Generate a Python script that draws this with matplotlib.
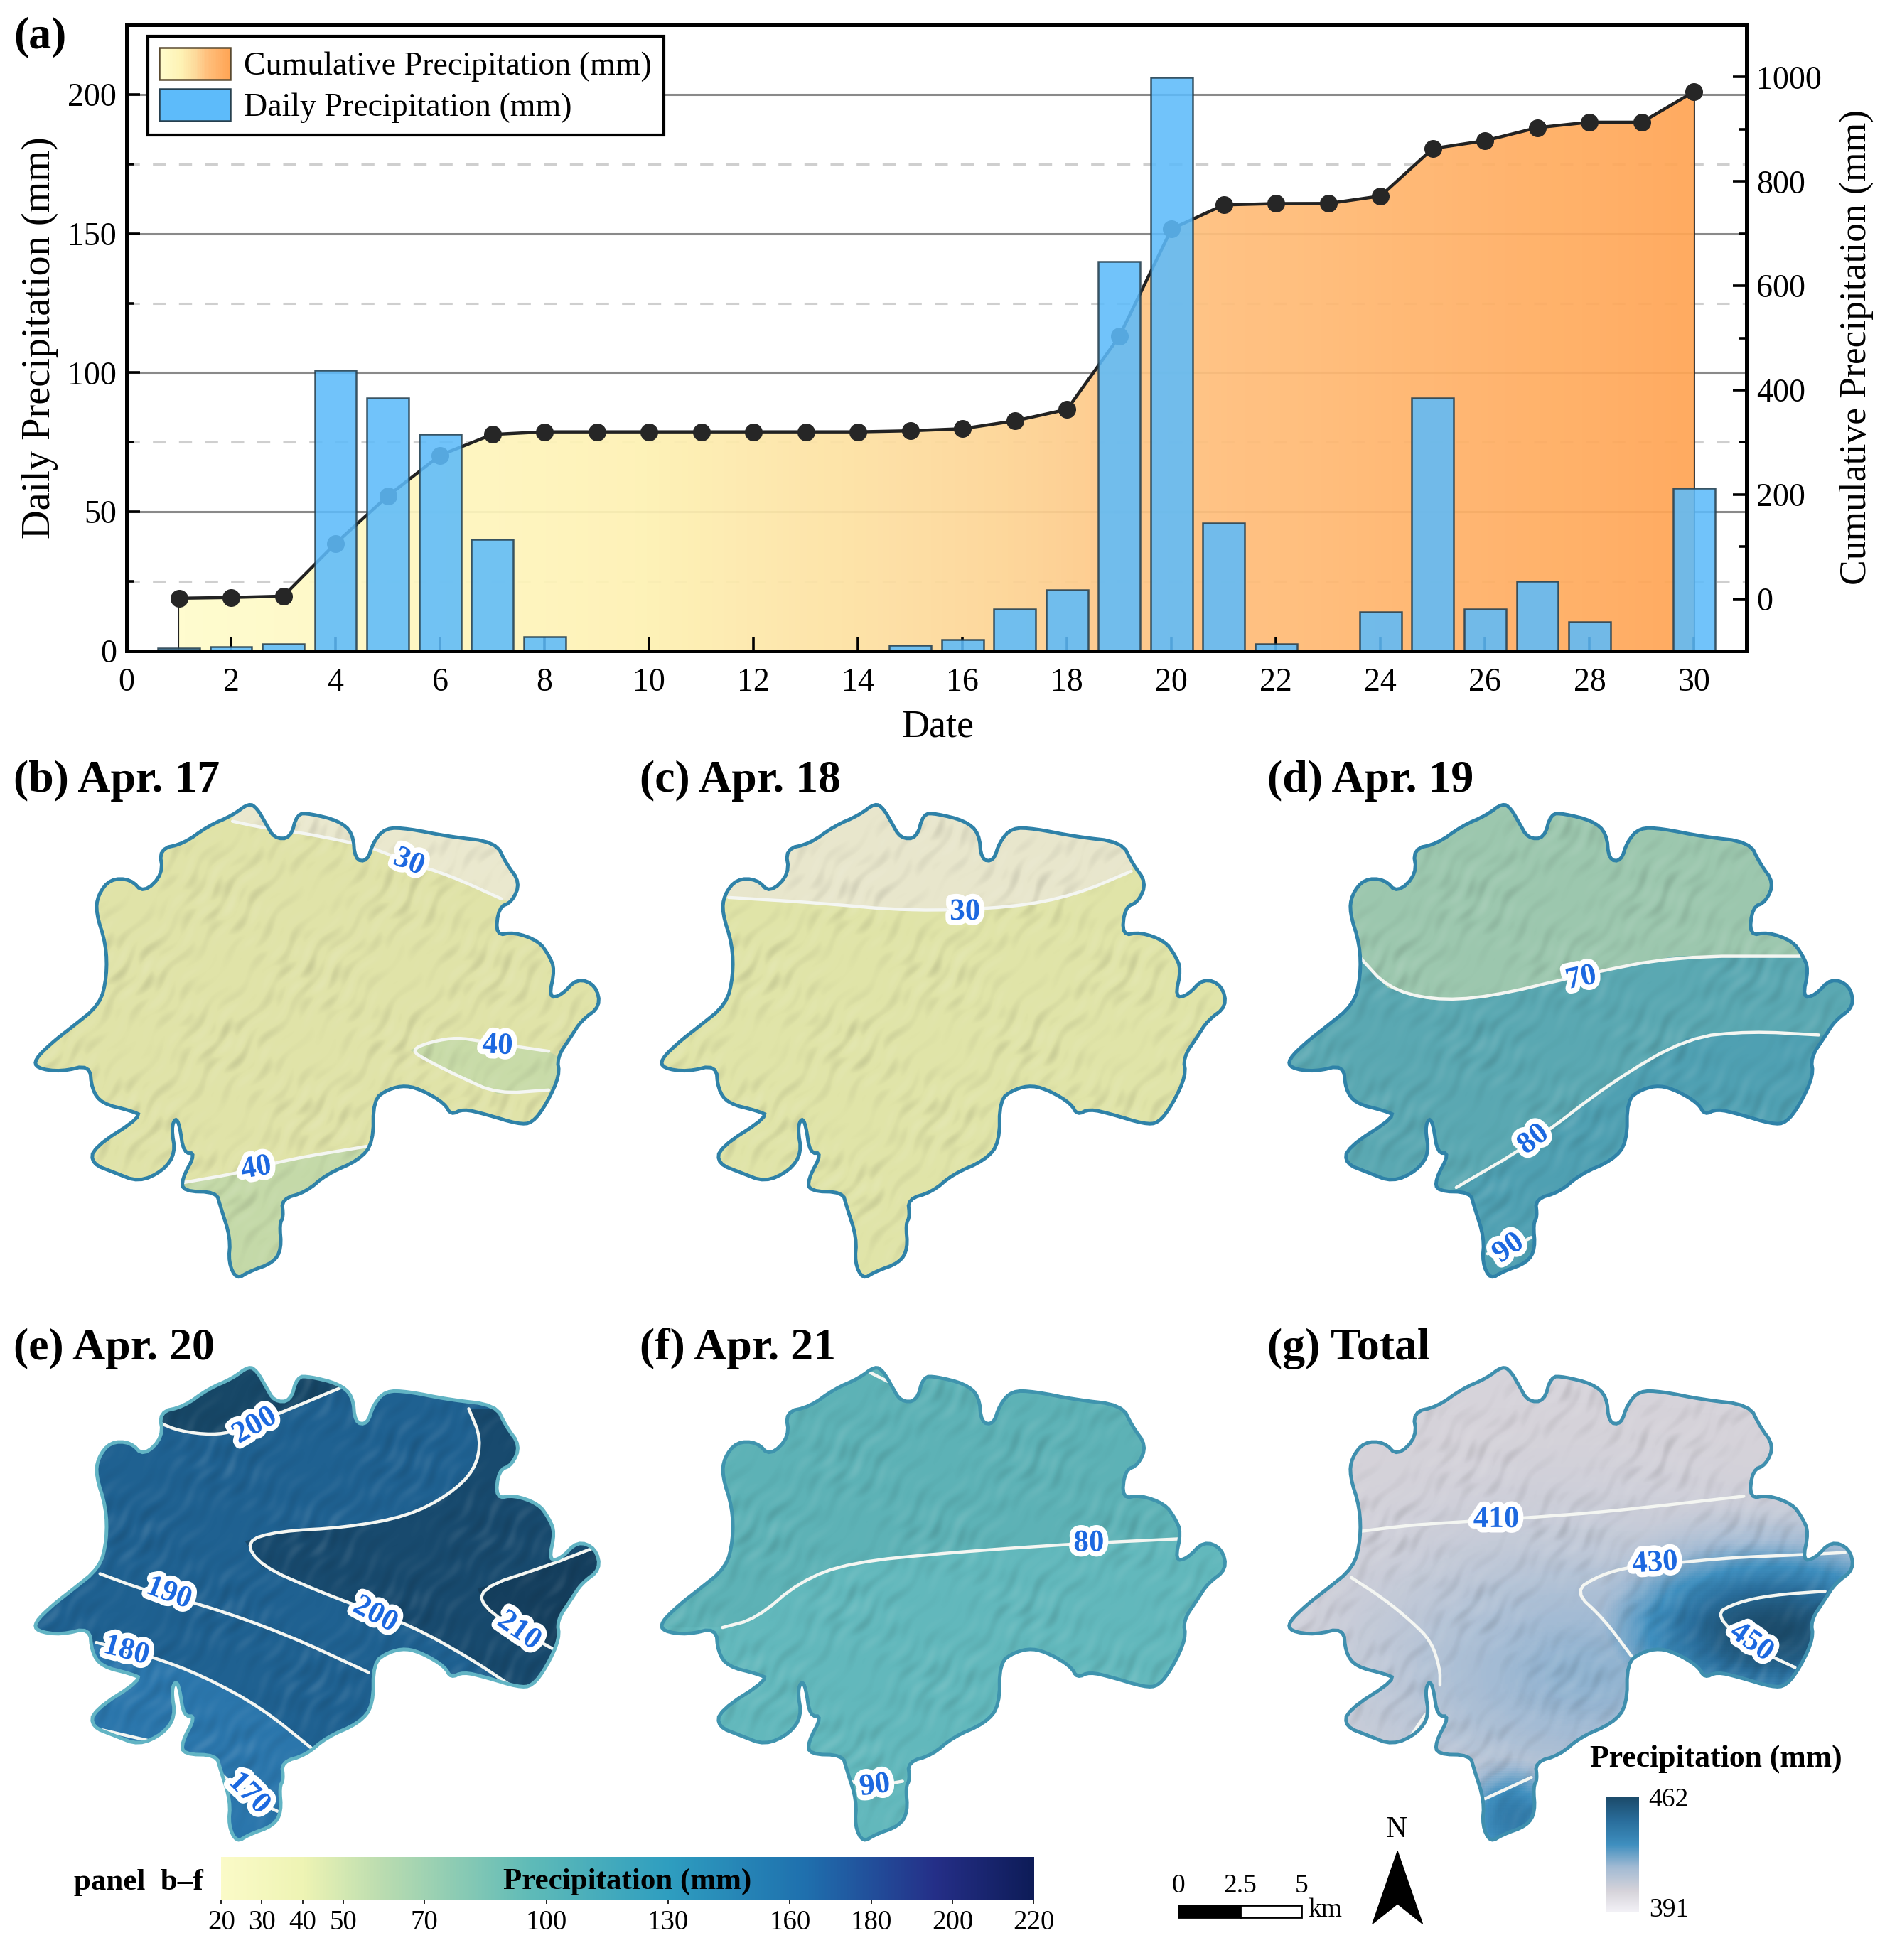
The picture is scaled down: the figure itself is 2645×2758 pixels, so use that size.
import numpy as np
import matplotlib
matplotlib.use("Agg")
import matplotlib.pyplot as plt
import matplotlib.patheffects as pe
from matplotlib.colors import LinearSegmentedColormap
from matplotlib.legend_handler import HandlerBase
from matplotlib.patches import Patch, Polygon, Rectangle

plt.rcParams['font.family'] = ['Liberation Serif', 'DejaVu Serif']

# -----------------------------
# Panel (a) data
# -----------------------------
days = list(range(1, 31))
daily = [1, 1.5, 2.5, 101, 91, 78, 40, 5, 0, 0.3, 0, 0, 0, 0, 2,
         4, 15, 22, 140, 206, 46, 2.5, 0.2, 14, 91, 15, 25, 10.5, 0, 58.5]
cumulative = [1, 2.5, 5, 106, 197, 275, 315, 320, 320, 320, 320, 320, 320, 320, 322,
              326, 341, 363, 503, 709, 755, 757.5, 757.7, 772, 863, 878, 903, 913.5, 913.5, 972]
left_ticks = [0, 50, 100, 150, 200]
right_ticks = [0, 200, 400, 600, 800, 1000]
date_ticks = list(range(0, 31, 2))
solid_grid = [50, 100, 150, 200]
dash_grid = [25, 75, 125, 175]

# -----------------------------
# Catchment outline, panel (b) zoom coordinates
# -----------------------------
outline_x = [610, 630, 650, 672, 712, 728, 760, 830, 865, 870, 900, 915, 945, 1000, 1100, 1215, 1240, 1275,
             1255, 1222, 1215, 1260, 1320, 1345, 1360, 1345, 1375, 1415, 1460, 1472, 1425, 1400, 1365, 1372,
             1340, 1305, 1270, 1190, 1135, 1105, 1090, 1040, 995, 950, 915, 915, 880, 800, 750, 690, 695, 685,
             690, 670, 610, 580, 560, 565, 540, 530, 450, 445, 480, 450, 440, 430, 420, 430, 400, 340, 280,
             225, 228, 350, 320, 250, 225, 220, 150, 90, 85, 130, 175, 245, 262, 260, 235, 240, 270, 320, 352,
             400, 390, 450, 510, 570]
outline_y = [140, 155, 195, 240, 240, 170, 170, 190, 225, 300, 305, 250, 210, 212, 235, 250, 310, 365,
             420, 435, 515, 505, 530, 570, 610, 690, 685, 635, 655, 715, 755, 800, 860, 910,
             990, 1045, 1048, 1020, 1005, 1022, 990, 955, 938, 950, 980, 1100, 1150, 1190, 1240, 1260, 1310, 1330,
             1400, 1440, 1465, 1487, 1440, 1370, 1280, 1240, 1238, 1205, 1130, 1130, 1050, 1030, 1060, 1130, 1180, 1212, 1185,
             1160, 1115, 1025, 1010, 990, 950, 880, 900, 890, 865, 815, 775, 710, 630, 540, 450, 400, 355, 355, 395,
             340, 270, 255, 205, 175]

panel_names = ['(b) Apr. 17', '(c) Apr. 18', '(d) Apr. 19', '(e) Apr. 20', '(f) Apr. 21', '(g) Total']
panel_dx = [0, 501, 1003, 0, 501, 1003]
panel_dy = [0, 0, 0, 450.4, 450.4, 450.4]
panel_fill = ['#E0E3A8', '#E0E4A8', '#9CC7AE', '#1F6191', '#5DB2B6', '#D6D4DC']
panel_edge = ['#2F82A8', '#2F82A8', '#2F82A8', '#62B4C4', '#3F94AE', '#3F8FAE']

# -----------------------------
# Zones and isohyets, positions in the 1504 wide picture
# -----------------------------
zones_b = [('#EAE8CE', [(186, 657), (209, 662), (240, 666), (281, 674), (300, 679), (326, 690), (359, 700), (401, 719), (430, 730), (430, 630), (186, 630)]),
           ('#C8DBA8', [(328, 840), (346, 833), (366, 830), (385, 833), (439, 841), (447, 846), (444, 872), (398, 875), (369, 862), (343, 849)]),
           ('#C4D9A8', [(147, 946), (193, 938), (228, 928), (294, 917), (320, 1040), (147, 1040)])]
zones_c = [('#E8E6CC', [(583, 718), (650, 722), (730, 729), (810, 726), (860, 716), (905, 697), (930, 630), (560, 630), (560, 718)])]
zones_d = [('#5AA8B2', [(1088, 766), (1110, 790), (1145, 800), (1190, 798), (1265, 780), (1340, 765), (1440, 765), (1500, 765), (1500, 1040), (1020, 1040), (1020, 766)]),
           ('#4FA0B2', [(1165, 950), (1225, 915), (1290, 865), (1350, 830), (1400, 825), (1455, 828), (1500, 830), (1500, 1040), (1165, 1040)])]
zones_e = [('#174767', [(127, 1138), (144, 1145), (170, 1148), (188, 1145), (225, 1130), (273, 1110), (273, 1080), (127, 1080)]),
           ('#184A6E', [(375, 1127), (385, 1151), (380, 1176), (359, 1196), (326, 1213), (277, 1222), (222, 1225), (196, 1233), (209, 1253), (255, 1273), (284, 1284), (330, 1301), (375, 1326), (408, 1348), (500, 1348), (500, 1127)]),
           ('#153F5E', [(473, 1239), (437, 1253), (382, 1271), (390, 1290), (442, 1319), (500, 1319), (500, 1239)]),
           ('#2B76AC', [(77, 1314), (121, 1325), (163, 1341), (209, 1366), (251, 1400), (251, 1490), (50, 1490), (50, 1314)])]
zones_f = [('#62B8BC', [(578, 1302), (605, 1295), (640, 1265), (680, 1250), (760, 1242), (860, 1235), (945, 1231), (1000, 1231), (1000, 1490), (520, 1490), (520, 1302)])]
panel_zones = [zones_b, zones_c, zones_d, zones_e, zones_f, []]

lines_b = [[(186, 657), (209, 662), (240, 666), (281, 674), (300, 679), (326, 690), (359, 700), (401, 719)],
           [(439, 841), (385, 833), (366, 830), (346, 833), (328, 840), (343, 849), (369, 862), (398, 875), (439, 872)],
           [(147, 946), (193, 938), (228, 928), (294, 917)]]
lines_c = [[(583, 718), (650, 722), (730, 729), (810, 726), (860, 716), (905, 697)]]
lines_d = [[(1088, 766), (1110, 790), (1145, 800), (1190, 798), (1265, 780), (1340, 765), (1440, 765)],
           [(1165, 950), (1225, 915), (1290, 865), (1350, 830), (1400, 825), (1455, 828)],
           [(1190, 1003), (1207, 999), (1225, 990)]]
lines_e = [[(127, 1138), (144, 1145), (170, 1148), (188, 1145), (225, 1130), (273, 1110)],
           [(375, 1127), (385, 1151), (380, 1176), (359, 1196), (326, 1213), (277, 1222), (222, 1225), (196, 1233), (209, 1253), (255, 1273), (284, 1284), (330, 1301), (375, 1326), (408, 1348)],
           [(473, 1239), (437, 1253), (382, 1271), (390, 1290), (442, 1319)],
           [(80, 1259), (118, 1273), (163, 1284), (228, 1307), (295, 1338)],
           [(77, 1314), (121, 1325), (163, 1341), (209, 1366), (251, 1400)],
           [(178, 1420), (196, 1437), (222, 1449)],
           [(82, 1384), (121, 1393)], [(31, 1306), (44, 1307)]]
lines_f = [[(578, 1302), (605, 1295), (640, 1265), (680, 1250), (760, 1242), (860, 1235), (945, 1231)],
           [(690, 1095), (710, 1105)], [(680, 1425), (700, 1429), (722, 1425)]]
lines_g = [[(1089, 1225), (1129, 1220), (1177, 1217), (1225, 1214), (1290, 1209), (1395, 1197)],
           [(1081, 1262), (1107, 1279), (1129, 1297), (1145, 1313), (1152, 1335), (1152, 1348)],
           [(1128, 1390), (1140, 1372)],
           [(1476, 1242), (1437, 1244), (1386, 1246), (1344, 1250), (1306, 1253), (1280, 1260), (1259, 1273), (1283, 1295), (1306, 1326)],
           [(1460, 1273), (1418, 1276), (1389, 1282), (1371, 1292), (1402, 1318), (1436, 1334)],
           [(1188, 1439), (1225, 1422)]]
panel_lines = [lines_b, lines_c, lines_d, lines_e, lines_f, lines_g]

contour_labels = [('30', 327, 690, -22), ('40', 398, 837, -3), ('40', 205, 935, 10),
                  ('30', 772, 730, 0),
                  ('70', 1265, 783, 12), ('80', 1227, 912, 38), ('90', 1207, 999, 35),
                  ('200', 204, 1141, 30), ('190', 135, 1275, -20), ('200', 300, 1292, -28),
                  ('210', 415, 1305, -35), ('180', 101, 1321, -15), ('170', 199, 1435, -45),
                  ('80', 871, 1235, 0), ('90', 700, 1429, 8),
                  ('410', 1197, 1216, 0), ('430', 1324, 1251, 4), ('450', 1401, 1314, -35)]

# -----------------------------
# Colour bars and map furniture
# -----------------------------
cbar_ticks = [20, 30, 40, 50, 70, 100, 130, 160, 180, 200, 220]
total_ticks = ['462', '391']
scale_ticks = ['0', '2.5', '5']

area_cmap = LinearSegmentedColormap.from_list('area', [(0, '#FFFCCC'), (0.3, '#FEF2B4'), (0.52, '#FDD899'), (0.68, '#FFBF7C'), (1, '#FFA555')])
precip_cmap = LinearSegmentedColormap.from_list('precip', [(0, '#FBFBC8'), (0.1, '#EEF4B4'), (0.2, '#B9DCB0'), (0.38, '#5FBBB8'), (0.55, '#2F9EC0'), (0.72, '#1F70AE'), (0.88, '#252F88'), (1, '#0E1C58')])
total_cmap = LinearSegmentedColormap.from_list('total', ['#F6F5FA', '#D6D3DA', '#A3BBD4', '#3F8FBF', '#2A6E9C', '#1C4C6C'])

W, H = 2645, 2758
fig = plt.figure(figsize=(W / 100, H / 100), dpi=100, facecolor='white')


def soften(pts, closed=False, passes=2):
    # corner cutting, the map lines are drawn rounded
    pts = np.asarray(pts, dtype=float)
    for _ in range(passes):
        if closed:
            nxt = np.roll(pts, -1, axis=0)
            pts = np.column_stack([0.75 * pts + 0.25 * nxt, 0.25 * pts + 0.75 * nxt]).reshape(-1, 2)
        else:
            a, b = pts[:-1], pts[1:]
            mid = np.column_stack([0.75 * a + 0.25 * b, 0.25 * a + 0.75 * b]).reshape(-1, 2)
            pts = np.vstack([pts[0], mid, pts[-1]])
    return pts


class GradientHandler(HandlerBase):
    # legend swatch made of thin strips
    def create_artists(self, legend, orig, xd, yd, width, height, fontsize, trans):
        arts = []
        for i in range(40):
            arts.append(Rectangle((-xd + width * i / 40, -yd), width / 40 + 0.3, height,
                                  facecolor=area_cmap(i / 39), edgecolor='none', transform=trans))
        arts.append(Rectangle((-xd, -yd), width, height, facecolor='none', edgecolor='#5A4A30', lw=1.8, transform=trans))
        return arts


# -----------------------------
# Panel (a): three stacked axes
# -----------------------------
rect = [178 / W, 1 - 916 / H, (2457 - 178) / W, (916 - 35) / H]
ax_bg = fig.add_axes(rect, zorder=0)
ax_bg.set_xlim(0, 31)
ax_bg.set_ylim(0, 225)
ax_bg.axis('off')
for v in solid_grid:
    ax_bg.axhline(v, color='#8A8A8A', lw=2.2)
for v in dash_grid:
    ax_bg.axhline(v, color='#CFCFCF', lw=2.2, dashes=(6, 6))

ax_cum = fig.add_axes(rect, zorder=1)
ax_cum.patch.set_visible(False)
ax_cum.set_xlim(0, 31)
ax_cum.set_ylim(-100, 1100)
verts = [(days[0], -100)] + list(zip(days, cumulative)) + [(days[-1], -100)]
area_poly = Polygon(verts, closed=True, facecolor='none', edgecolor='#222222', lw=2)
ax_cum.add_patch(area_poly)
im = ax_cum.imshow(np.linspace(0, 1, 256).reshape(1, -1), cmap=area_cmap, aspect='auto', alpha=0.93,
                   extent=[days[0], days[-1], -100, 1100], zorder=1)
im.set_clip_path(area_poly)
ax_cum.plot(days, cumulative, color='#222222', lw=3.2, marker='o', ms=17, mfc='#262626', mec='#262626', zorder=3)
ax_cum.set_xlim(0, 31)
ax_cum.set_ylim(-100, 1100)
ax_cum.xaxis.set_visible(False)
ax_cum.yaxis.tick_right()
ax_cum.set_yticks(right_ticks)
ax_cum.set_yticks([100, 300, 500, 700, 900], minor=True)
ax_cum.tick_params(axis='y', which='major', direction='in', length=14, width=2.6, labelsize=33, pad=10)
ax_cum.tick_params(axis='y', which='minor', direction='in', length=8, width=2.6)
for s in ax_cum.spines.values():
    s.set_visible(False)
ax_cum.spines['right'].set_visible(True)
ax_cum.spines['right'].set_linewidth(3.6)

ax = fig.add_axes(rect, zorder=2)
ax.patch.set_visible(False)
ax.bar(days, daily, width=0.8, color='#5DBBFA', alpha=0.88, edgecolor='#27404F', linewidth=1.8, zorder=2)
ax.set_xlim(0, 31)
ax.set_ylim(0, 225)
ax.set_xticks(date_ticks)
ax.set_yticks(left_ticks)
ax.set_yticks(dash_grid, minor=True)
ax.tick_params(axis='both', which='major', direction='in', length=14, width=2.6, labelsize=33, pad=10)
ax.tick_params(axis='x', pad=17)
ax.tick_params(axis='y', which='minor', direction='in', length=8, width=2.6)
ax.spines['right'].set_visible(False)
for name in ['left', 'bottom', 'top']:
    ax.spines[name].set_linewidth(3.6)

handles = [Patch(label='Cumulative Precipitation (mm)'),
           Patch(facecolor='#5DBBFA', edgecolor='#27404F', lw=1.8, label='Daily Precipitation (mm)')]
leg = ax.legend(handles=handles, loc='upper left', bbox_to_anchor=(0.0130, 0.982), fontsize=33,
                fancybox=False, framealpha=1, edgecolor='black', handlelength=2.18, handleheight=1.13,
                labelspacing=0.22, borderpad=0.36, handletextpad=0.42, borderaxespad=0,
                handler_map={handles[0]: GradientHandler()})
leg.get_frame().set_linewidth(3)
leg.set_zorder(10)

# -----------------------------
# Overlay in picture coordinates (1504 wide)
# -----------------------------
ov = fig.add_axes([0, 0, 1, 1], zorder=3)
ov.patch.set_visible(False)
ov.axis('off')

ov.text(11, 30, '(a)', fontsize=46, fontweight='bold', va='center')
ov.text(32, 270, 'Daily Precipitation (mm)', fontsize=40.5, rotation=90, ha='center', va='center')
ov.text(1485, 278, 'Cumulative Precipitation (mm)', fontsize=38.5, rotation=90, ha='center', va='center')
ov.text(750, 582, 'Date', fontsize=39, ha='center', va='center')

# terrain shading, same relief under each map
gx, gy = np.meshgrid(np.arange(20, 490, 0.6), np.arange(635, 1030, 0.6))
u = gx * 0.80 + gy * 0.60
v = -gx * 0.60 + gy * 0.80
relief = (np.sin(u / 3.7 + 1.9 * np.sin(v / 17.0)) + 0.8 * np.sin(u / 1.7 + 1.5 * np.sin(v / 7.0))
          + 0.5 * np.sin(v / 5.0 + u / 9.0)) * (0.55 + 0.45 * np.sin(gx / 23.0) * np.cos(gy / 19.0))
shade = np.zeros(relief.shape + (4,))
shade[..., :3] = (relief[..., None] > 0).astype(float)
shade[..., 3] = np.clip(np.abs(relief) * 0.05, 0, 0.13)

outline_ox = np.array(outline_x) * 0.3264
outline_oy = 602.8 + np.array(outline_y) * 0.2829

for i, name in enumerate(panel_names):
    dx, dy = panel_dx[i], panel_dy[i]
    shape = soften(np.column_stack([outline_ox + dx, outline_oy + dy]), closed=True)
    base = Polygon(shape, closed=True, facecolor=panel_fill[i], edgecolor='none', zorder=2)
    ov.add_patch(base)
    for color, pts in panel_zones[i]:
        z = Polygon(pts, closed=True, facecolor=color, edgecolor='none', zorder=3)
        ov.add_patch(z)
        z.set_clip_path(base)
    if name == '(g) Total':
        fx, fy = np.meshgrid(np.linspace(1020, 1490, 240), np.linspace(1085, 1480, 200))
        spot1 = np.exp(-((fx - 1418) ** 2 / 118.0 ** 2 + (fy - 1305) ** 2 / 62.0 ** 2))
        spot2 = 0.3 * np.exp(-((fx - 1270) ** 2 / 170.0 ** 2 + (fy - 1340) ** 2 / 105.0 ** 2))
        spot3 = 0.66 * np.exp(-((fx - 1210) ** 2 + (fy - 1455) ** 2) / 42.0 ** 2)
        field = 0.2 + 0.8 * np.maximum(np.maximum(spot1, spot2), spot3)
        g_im = ov.imshow(field, cmap=total_cmap, vmin=0, vmax=1, aspect='auto',
                         extent=[1020, 1490, 1480, 1085], origin='upper', zorder=3)
        g_im.set_clip_path(base)
    sh = ov.imshow(shade, aspect='auto', origin='upper', zorder=4, interpolation='bilinear',
                   extent=[20 + dx, 490 + dx, 1030 + dy, 635 + dy])
    sh.set_clip_path(base)
    for line in panel_lines[i]:
        pts = soften(line)
        ln, = ov.plot(pts[:, 0], pts[:, 1], color='#F4F6F2', lw=3.2, solid_capstyle='round', zorder=5)
        ln.set_clip_path(base)
    ov.add_patch(Polygon(shape, closed=True, facecolor='none', edgecolor=panel_edge[i], lw=3.6, zorder=6))
    title_y = 625 if i < 3 else 1079
    ov.text(11 + dx, title_y, name, fontsize=46, fontweight='bold', va='center')

for txt, x, y, rot in contour_labels:
    ov.text(x, y, txt, color='#1C68E0', fontsize=31, fontweight='bold', ha='center', va='center', rotation=rot, zorder=8,
            path_effects=[pe.withStroke(linewidth=11, foreground='white')])

# legend of panel (g)
ov.text(1373, 1407, 'Precipitation (mm)', fontsize=31.5, fontweight='bold', ha='center', va='center')
ov.imshow(np.linspace(1, 0.02, 128).reshape(-1, 1), cmap=total_cmap, vmin=0, vmax=1, aspect='auto',
          extent=[1285, 1311, 1530, 1438], origin='upper', zorder=3)
ov.text(1319, 1440, total_ticks[0], fontsize=27, va='center')
ov.text(1319, 1528, total_ticks[1], fontsize=27, va='center')

# scale bar
for label, x in zip(scale_ticks, [943, 992, 1041]):
    ov.text(x, 1509, label, fontsize=27, ha='center', va='center')
ov.add_patch(Rectangle((943, 1524), 49, 10, facecolor='black', edgecolor='black', lw=2))
ov.add_patch(Rectangle((992, 1524), 49, 10, facecolor='white', edgecolor='black', lw=2))
ov.text(1060, 1528, 'km', fontsize=27, ha='center', va='center')

# north arrow
ov.text(1117, 1464, 'N', fontsize=30, ha='center', va='center')
ov.add_patch(Polygon([(1118, 1481), (1138, 1539), (1118, 1523), (1098, 1539)], closed=True, facecolor='black', edgecolor='black'))

ov.text(59, 1506, 'panel  b\u2013f', fontsize=31, fontweight='bold', va='center')
ov.set_xlim(0, 1504)
ov.set_ylim(1568, 0)

# -----------------------------
# Shared colour bar of panels b-f
# -----------------------------
s = W / 1504
cax = fig.add_axes([177 * s / W, 1 - 1520 * s / H, 650 * s / W, 34 * s / H], zorder=4)
cax.imshow(np.linspace(0, 1, 512).reshape(1, -1), cmap=precip_cmap, aspect='auto', extent=[20, 220, 0, 1])
cax.set_xticks(cbar_ticks)
cax.set_yticks([])
cax.tick_params(axis='x', length=4, width=1.2, labelsize=28, pad=6)
for sp in cax.spines.values():
    sp.set_visible(False)
cax.text(120, 0.42, 'Precipitation (mm)', fontsize=31, fontweight='bold', ha='center', va='center')

fig.savefig('out.png', dpi=100)
